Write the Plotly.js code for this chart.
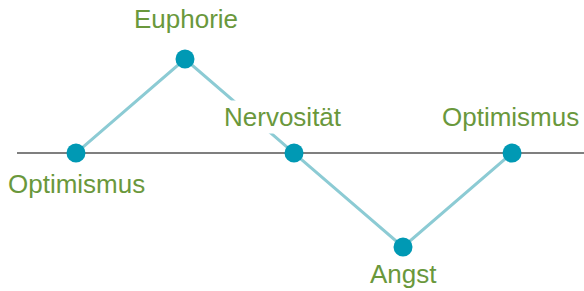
<!DOCTYPE html>
<html><head><meta charset="utf-8">
<script src="https://cdn.plot.ly/plotly-3.0.1.min.js"></script>
<style>html,body{margin:0;padding:0;background:#fff}#c{width:584px;height:291px}</style>
</head><body><div id="c"></div>
<script>
const phases = [1, 2, 3, 4, 5];
const mood = [0, 1, 0, -1, 0];
const labels = ["Optimismus", "Euphorie", "Nervosität", "Angst", "Optimismus"];
const labelDx = [1, 1, -11, 0, -2];
const labelDy = [-31, 40, 36, -27, 36];

const green = "#6a983c";
const annotations = phases.map((p, i) => ({
  x: p, y: mood[i], xref: "x", yref: "y", text: labels[i], showarrow: false,
  xshift: labelDx[i], yshift: labelDy[i],
  font: {family: "Liberation Sans, Arial, sans-serif", size: 26, color: green},
  bgcolor: i === 2 ? "#ffffff" : "rgba(0,0,0,0)", borderpad: 1
}));

Plotly.newPlot("c", [{
  x: phases, y: mood, type: "scatter", mode: "lines+markers",
  line: {color: "#8ccbd4", width: 3},
  marker: {color: "#0099b4", size: 19},
  hoverinfo: "skip", cliponaxis: false
}], {
  width: 584, height: 291,
  margin: {l: 0, r: 0, t: 0, b: 0},
  paper_bgcolor: "#fff", plot_bgcolor: "#fff",
  showlegend: false,
  xaxis: {range: [0.303, 5.66], visible: false, fixedrange: true},
  yaxis: {range: [-1.468, 1.628], visible: false, fixedrange: true},
  shapes: [{type: "line", xref: "x", yref: "y", x0: 0.459, x1: 5.66, y0: 0, y1: 0,
    line: {color: "#555555", width: 1.5}, layer: "below"}],
  annotations: annotations
}, {staticPlot: true});
</script></body></html>
